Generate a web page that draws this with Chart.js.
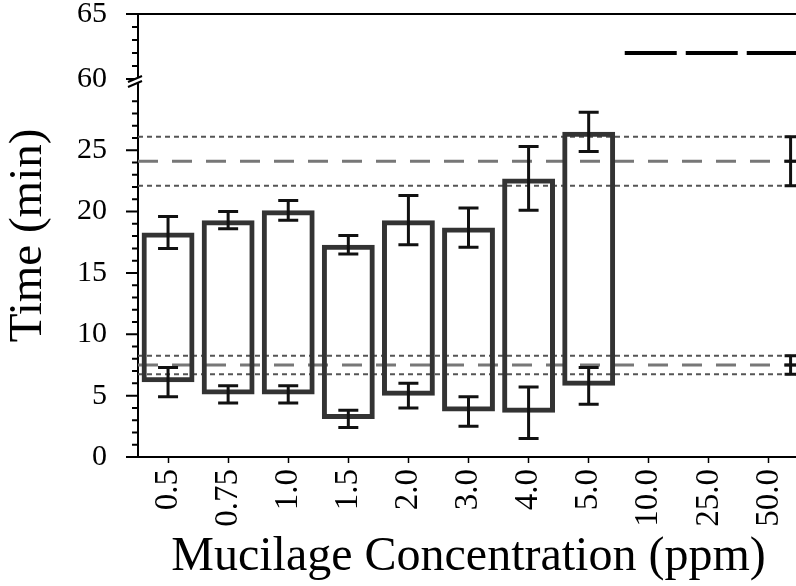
<!DOCTYPE html>
<html>
<head>
<meta charset="utf-8">
<script src="https://cdn.jsdelivr.net/npm/chart.js@4.4.0/dist/chart.umd.min.js"></script>
<style>
  html, body { margin: 0; padding: 0; background: #fff; overflow: hidden; }
  canvas { display: block; }
</style>
</head>
<body>
<canvas id="gel-times" width="800" height="586"></canvas>
<script>
// mucilage concentrations (ppm) and gel start / end times (min) with their spreads
const concentrations = ["0.5", "0.75", "1.0", "1.5", "2.0", "3.0", "4.0", "5.0", "10.0", "25.0", "50.0"];
const startTimes = [6.1, 5.1, 5.1, 3.1, 5.0, 3.7, 3.6, 5.8, null, null, null];
const startErrors = [1.2, 0.7, 0.7, 0.7, 1.0, 1.2, 2.1, 1.5];
const endTimes = [18.3, 19.3, 20.1, 17.3, 19.3, 18.7, 22.7, 26.5, null, null, null];
const endErrors = [1.3, 0.7, 0.8, 0.75, 2.0, 1.6, 2.6, 1.6];

// control (no mucilage) band
const controlStart = 7.5;
const controlStartErr = 0.75;
const controlEnd = 24.1;
const controlEndErr = 2.0;
const controlX = 10.36;

// no gel within the test window at high concentration
const noGelTime = 62;
const noGelFrom = 7.6;

const yTicks = [0, 5, 10, 15, 20, 25, 60, 65];

// broken y axis: everything from 60 up is shifted down next to the lower segment
const BREAK_VALUE = 60;
const BREAK_AT = 30.8;
const UPPER_STRETCH = 1.06;
function toAxis(v) {
  return v < BREAK_VALUE ? v : BREAK_AT + (v - BREAK_VALUE) * UPPER_STRETCH;
}

Chart.defaults.font.family = "'Liberation Serif', 'Times New Roman', serif";
Chart.defaults.color = "#000";

function hLine(v, x0, x1, dash, color, width) {
  return {
    type: "line",
    data: [{ x: x0, y: toAxis(v) }, { x: x1, y: toAxis(v) }],
    xAxisID: "xr",
    yAxisID: "y",
    borderColor: color,
    borderWidth: width,
    borderDash: dash,
    pointRadius: 0,
    fill: false,
    order: 1,
  };
}

function errorBar(ctx, px, yScale, v, err, half, crossbar) {
  const top = yScale.getPixelForValue(toAxis(v + err));
  const bot = yScale.getPixelForValue(toAxis(v - err));
  ctx.beginPath();
  ctx.moveTo(px, top);
  ctx.lineTo(px, bot);
  ctx.moveTo(px - half, top);
  ctx.lineTo(px + half, top);
  ctx.moveTo(px - half, bot);
  ctx.lineTo(px + half, bot);
  if (crossbar) {
    const mid = yScale.getPixelForValue(toAxis(v));
    ctx.moveTo(px - half, mid);
    ctx.lineTo(px + half, mid);
  }
  ctx.stroke();
}

const overlay = {
  id: "overlay",
  afterDatasetsDraw(chart) {
    const { ctx, chartArea: a, scales } = chart;
    const x = scales.x, xr = scales.xr, y = scales.y;
    ctx.save();

    // error bars at both ends of each gel window
    ctx.strokeStyle = "#111";
    ctx.lineWidth = 3;
    startTimes.forEach((t, i) => {
      if (t == null) return;
      const px = x.getPixelForValue(i);
      errorBar(ctx, px, y, t, startErrors[i], 10);
      errorBar(ctx, px, y, endTimes[i], endErrors[i], 10);
    });
    const cx = xr.getPixelForValue(controlX);
    errorBar(ctx, cx, y, controlStart, controlStartErr, 6, true);
    errorBar(ctx, cx, y, controlEnd, controlEndErr, 6, true);

    // y ticks: long at labelled values, short every minute
    ctx.strokeStyle = "#000";
    ctx.lineWidth = 2;
    const minor = [];
    for (let v = 1; v <= 30; v++) if (v % 5) minor.push(v);
    for (let v = 61; v <= 64; v++) minor.push(v);
    ctx.beginPath();
    yTicks.forEach(v => {
      const py = y.getPixelForValue(toAxis(v));
      ctx.moveTo(a.left - 12, py);
      ctx.lineTo(a.left, py);
    });
    minor.forEach(v => {
      const py = y.getPixelForValue(toAxis(v));
      ctx.moveTo(a.left - 6, py);
      ctx.lineTo(a.left, py);
    });
    // top frame
    ctx.moveTo(a.left, a.top);
    ctx.lineTo(chart.width, a.top);
    ctx.stroke();

    // axis break marks at 60
    const by = y.getPixelForValue(toAxis(BREAK_VALUE));
    ctx.fillStyle = "#fff";
    ctx.fillRect(a.left - 3, by - 1, 6, 5);
    ctx.lineWidth = 2;
    ctx.beginPath();
    ctx.moveTo(a.left - 10, by + 3);
    ctx.lineTo(a.left + 4, by - 3);
    ctx.moveTo(a.left - 10, by + 8);
    ctx.lineTo(a.left + 4, by + 2);
    ctx.stroke();
    ctx.restore();
  },
};

new Chart(document.getElementById("gel-times"), {
  type: "bar",
  data: {
    labels: concentrations,
    datasets: [
      {
        type: "bar",
        label: "Gel window",
        data: startTimes.map((t, i) => (t == null ? null : [t, endTimes[i]])),
        xAxisID: "x",
        yAxisID: "y",
        backgroundColor: "rgba(0,0,0,0)",
        borderColor: "#333",
        borderWidth: 5,
        borderSkipped: false,
        grouped: false,
        barPercentage: 0.88,
        categoryPercentage: 1,
        order: 0,
      },
      hLine(controlEnd + controlEndErr, -0.5, 10.5, [5, 4], "#555", 2),
      hLine(controlEnd, -0.5, 10.5, [20, 14], "#777", 3),
      hLine(controlEnd - controlEndErr, -0.5, 10.5, [5, 4], "#555", 2),
      hLine(controlStart + controlStartErr, -0.5, 10.5, [5, 4], "#555", 2),
      hLine(controlStart, -0.5, 10.5, [20, 14], "#777", 3),
      hLine(controlStart - controlStartErr, -0.5, 10.5, [5, 4], "#555", 2),
      hLine(noGelTime, noGelFrom, 10.5, [52, 9], "#000", 4),
    ],
  },
  options: {
    responsive: false,
    animation: false,
    layout: { padding: { top: 14, right: 1, left: 0, bottom: 0 } },
    plugins: {
      legend: { display: false },
      tooltip: { enabled: false },
    },
    scales: {
      x: {
        type: "category",
        offset: true,
        grid: { offset: false, drawOnChartArea: false, tickLength: 6, color: "#000", tickWidth: 1.5 },
        border: { display: true, color: "#000", width: 2 },
        ticks: { minRotation: 90, maxRotation: 90, padding: 6, font: { size: 33 }, autoSkip: false },
        title: {
          display: true,
          text: "Mucilage Concentration (ppm)",
          font: { size: 48 },
          padding: { top: 0, bottom: 0 },
        },
        afterFit(scale) {
          scale.height = 129;
          scale.paddingLeft = 0;
          scale.paddingRight = 0;
        },
      },
      xr: {
        type: "linear",
        display: false,
        offset: false,
        min: -0.5,
        max: 10.5,
      },
      y: {
        type: "linear",
        min: 0,
        max: toAxis(65),
        afterBuildTicks(scale) {
          scale.ticks = yTicks.map(v => ({ value: toAxis(v) }));
        },
        grid: { drawOnChartArea: false, drawTicks: false },
        border: { display: true, color: "#000", width: 2 },
        ticks: {
          padding: 31,
          font: { size: 30 },
          callback: (value, index) => String(yTicks[index]),
        },
        title: {
          display: true,
          text: "Time (min)",
          font: { size: 47 },
          padding: { top: 0, bottom: 0 },
        },
        afterFit(scale) {
          scale.width = 138;
          scale.paddingTop = 0;
          scale.paddingBottom = 0;
        },
      },
    },
  },
  plugins: [overlay],
});
</script>
</body>
</html>
